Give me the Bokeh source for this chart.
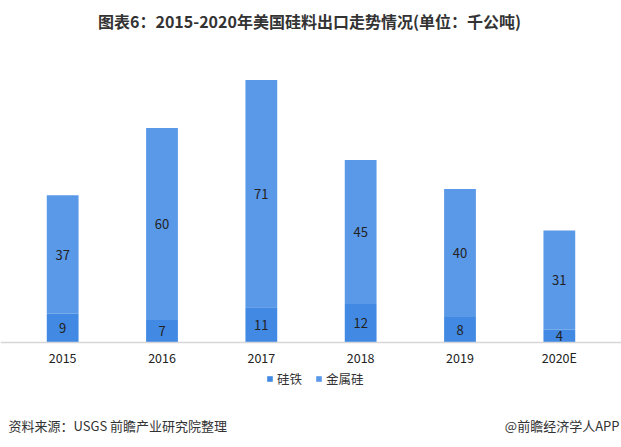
from bokeh.plotting import figure
from bokeh.models import ColumnDataSource, Label, Legend, LegendItem, Range1d, FactorRange
from bokeh.core.properties import value
from bokeh.embed import file_html
from bokeh.resources import INLINE

years = ["2015", "2016", "2017", "2018", "2019", "2020E"]
ferrosilicon = [9, 7, 11, 12, 8, 4]      # 硅铁
silicon_metal = [37, 60, 71, 45, 40, 31]  # 金属硅

FONT = "Noto Sans CJK SC"
C_FE = "#4289e3"
C_SI = "#5a98e8"
W, H = 621, 440

src = ColumnDataSource(dict(
    year=years,
    fe=ferrosilicon,
    si=silicon_metal,
    fe_mid=[f / 2 for f in ferrosilicon],
    si_mid=[f + s / 2 for f, s in zip(ferrosilicon, silicon_metal)],
    fe_txt=[str(v) for v in ferrosilicon],
    si_txt=[str(v) for v in silicon_metal],
))

p = figure(width=W, height=H, x_range=FactorRange(*years, range_padding=0.04195),
           y_range=Range1d(-30.625, 106.875),
           output_backend="svg", toolbar_location=None,
           min_border_left=0, min_border_right=0, min_border_top=0, min_border_bottom=0)
p.outline_line_color = None
p.grid.visible = False
p.yaxis.visible = False

r = p.vbar_stack(["fe", "si"], x="year", width=0.32, color=[C_FE, C_SI], source=src,
                 line_color=None)

p.text(x="year", y="fe_mid", text="fe_txt", source=src, text_align="center",
       text_baseline="middle", text_font=value(FONT), text_font_size="13px", text_color="#222222")
p.text(x="year", y="si_mid", text="si_txt", source=src, text_align="center",
       text_baseline="middle", text_font=value(FONT), text_font_size="13px", text_color="#222222")

ax = p.xaxis[0]
ax.fixed_location = 0
ax.axis_line_color = "#d6d6d6"
ax.axis_line_width = 1.5
ax.major_tick_line_color = None
ax.minor_tick_line_color = None
ax.major_label_text_font = FONT
ax.major_label_text_font_size = "12.5px"
ax.major_label_text_color = "#222222"
ax.major_label_standoff = -1

legend = Legend(items=[LegendItem(label="硅铁", renderers=[r[0]]),
                       LegendItem(label="金属硅", renderers=[r[1]])],
                orientation="horizontal", location=(266, 52),
                label_text_font=FONT, label_text_font_size="12.5px", label_text_color="#333333",
                glyph_width=7, glyph_height=7, spacing=13, label_standoff=4,
                border_line_color=None, background_fill_alpha=0, padding=0, margin=0)
p.add_layout(legend, "center")

p.add_layout(Label(x=309, y=H - 20, x_units="screen", y_units="screen",
                   text="图表6：2015-2020年美国硅料出口走势情况(单位：千公吨)",
                   text_align="center", text_baseline="middle", text_font=FONT,
                   text_font_size="16px", text_font_style="bold", text_color="#333333"))
p.add_layout(Label(x=8, y=H - 425, x_units="screen", y_units="screen",
                   text="资料来源：USGS 前瞻产业研究院整理",
                   text_align="left", text_baseline="middle", text_font=FONT,
                   text_font_size="13px", text_color="#333333"))
p.add_layout(Label(x=619, y=H - 425, x_units="screen", y_units="screen",
                   text="@前瞻经济学人APP",
                   text_align="right", text_baseline="middle", text_font=FONT,
                   text_font_size="13px", text_color="#333333"))

open("out.html", "w").write(file_html(p, INLINE))
